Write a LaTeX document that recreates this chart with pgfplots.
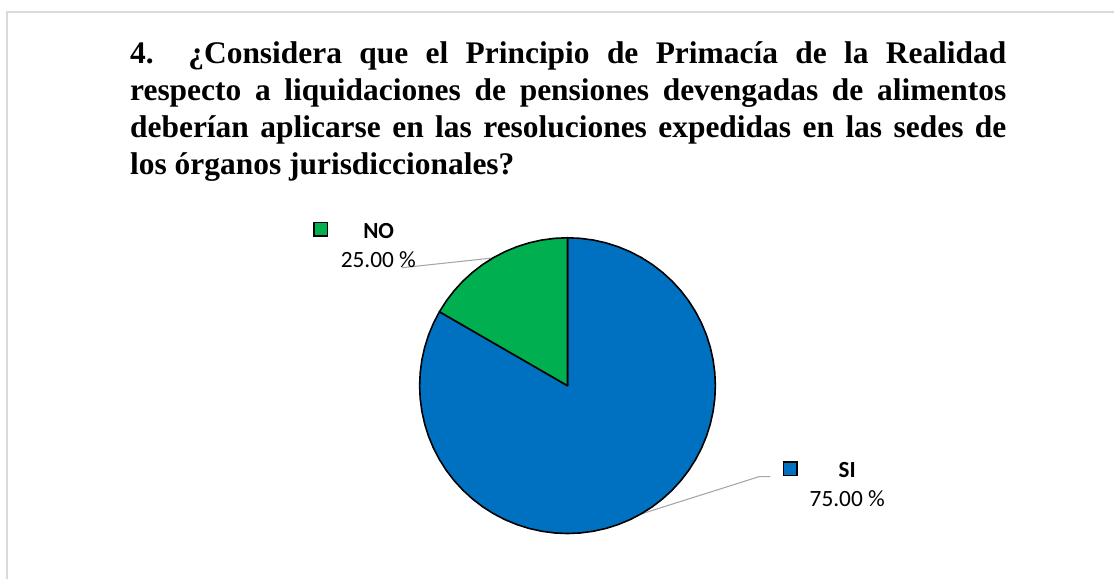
\documentclass[border=0pt]{standalone}
\usepackage{pgfplots}
\pgfplotsset{compat=1.18}
\usepackage{fontspec}
\setmainfont{Liberation Serif}
\newfontfamily\calfont{Carlito}
\definecolor{pieblue}{HTML}{0070C0}
\definecolor{piegreen}{HTML}{00B050}
\definecolor{leader}{HTML}{A6A6A6}
\definecolor{frame}{HTML}{D9D9D9}
\begin{document}
\begin{tikzpicture}[x=1pt,y=1pt]
% main canvas in pixel units (1px = 0.75pt), y downward
\begin{axis}[name=main, at={(0pt,0pt)}, anchor=south west,
  width=836.25pt, height=435pt, scale only axis,
  xmin=0, xmax=1115, ymin=0, ymax=580, y dir=reverse,
  hide axis, clip=false]
  \path (axis cs:0,0) rectangle (axis cs:1115,580);
  % frame
  \addplot[frame, line width=1.5pt] coordinates {(7,580) (7,12) (1115,12)};
  % leader lines
  \addplot[leader, line width=0.8pt] coordinates {(495,258) (402,268)};
  \addplot[leader, line width=0.8pt] coordinates {(643,514) (760,477) (771,477)};
  % legend keys
  \addplot[only marks, mark=square*, mark size=5pt, mark options={fill=piegreen, draw=black, line width=1pt}] coordinates {(321,229.5)};
  \addplot[only marks, mark=square*, mark size=5pt, mark options={fill=pieblue, draw=black, line width=1pt}] coordinates {(791,469)};
  % labels
  \node[font=\calfont\bfseries\fontsize{17.3}{20}\selectfont, inner sep=0pt] at (axis cs:379,231) {NO};
  \node[font=\calfont\fontsize{17.5}{20}\selectfont, inner sep=0pt] at (axis cs:378.7,260) {25.00 \%};
  \node[font=\calfont\bfseries\fontsize{17.3}{20}\selectfont, inner sep=0pt] at (axis cs:848,470.5) {SI};
  \node[font=\calfont\fontsize{17.5}{20}\selectfont, inner sep=0pt] at (axis cs:848,499.5) {75.00 \%};
  % title
  \node[anchor=north west, inner sep=0pt, text width=657.75pt, align=justify,
        font=\bfseries\fontsize{23.6}{27.75}\selectfont] at (axis cs:130,41.6)
  {\hyphenpenalty=10000 4.\ \ ¿Considera que el Principio de Primacía de la Realidad\linebreak
   respecto a liquidaciones de pensiones devengadas de alimentos\linebreak
   deberían aplicarse en las resoluciones expedidas en las sedes de\linebreak
   los órganos jurisdiccionales?};
\end{axis}
% pie axis: centre at px (568,386), radius 148 px
\begin{axis}[at={(426pt,145.5pt)}, anchor=center,
  width=222pt, height=222pt, scale only axis,
  xmin=-148, xmax=148, ymin=-148, ymax=148,
  hide axis, clip=false]
  \addplot[fill=pieblue, draw=black, line width=1.2pt, line join=round, data cs=polar] coordinates {
    (0,0) (150,148) (155,148) (160,148) (165,148) (170,148) (175,148) (180,148)
    (185,148) (190,148) (195,148) (200,148) (205,148) (210,148) (215,148) (220,148)
    (225,148) (230,148) (235,148) (240,148) (245,148) (250,148) (255,148) (260,148)
    (265,148) (270,148) (275,148) (280,148) (285,148) (290,148) (295,148) (300,148)
    (305,148) (310,148) (315,148) (320,148) (325,148) (330,148) (335,148) (340,148)
    (345,148) (350,148) (355,148) (360,148) (365,148) (370,148) (375,148) (380,148)
    (385,148) (390,148) (395,148) (400,148) (405,148) (410,148) (415,148) (420,148)
    (425,148) (430,148) (435,148) (440,148) (445,148) (450,148) (0,0)} -- cycle;
  \addplot[fill=piegreen, draw=black, line width=1.2pt, line join=round, data cs=polar] coordinates {
    (0,0) (90,148) (95,148) (100,148) (105,148) (110,148) (115,148) (120,148)
    (125,148) (130,148) (135,148) (140,148) (145,148) (150,148) (0,0)} -- cycle;
\end{axis}
\end{tikzpicture}
\end{document}
